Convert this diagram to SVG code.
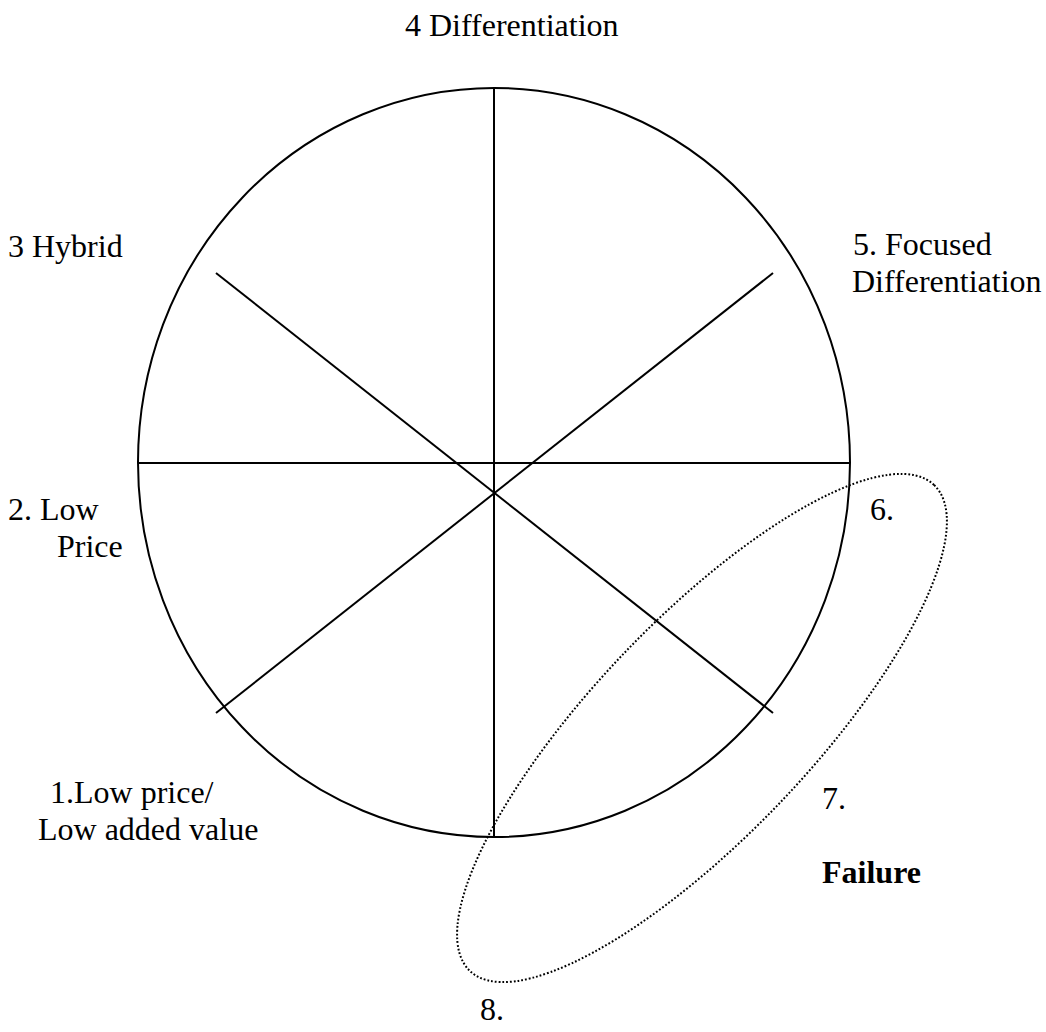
<svg xmlns="http://www.w3.org/2000/svg" width="1046" height="1032" viewBox="0 0 1046 1032">
<style>
.ln{stroke:#000;stroke-width:2;fill:none}
.dot{stroke:#000;stroke-width:2;fill:none;stroke-dasharray:1.8 2}
text{font-family:"Liberation Serif","Times New Roman",serif;font-size:32px;fill:#000}
.b{font-weight:bold}
</style>
<rect width="1046" height="1032" fill="#fff"/>
<g id="wheel">
<ellipse class="ln" cx="494" cy="462.5" rx="356" ry="374.5"/>
</g>
<g id="connectors">
<line class="ln" x1="494" y1="88" x2="494" y2="837"/>
<line class="ln" x1="138" y1="463" x2="850" y2="463"/>
<line class="ln" x1="216" y1="273" x2="773" y2="713"/>
<line class="ln" x1="773" y1="273" x2="216" y2="713"/>
</g>
<g id="failure-zone">
<ellipse class="dot" cx="702" cy="728" rx="336" ry="108" transform="rotate(-46.3 702 728)"/>
</g>
<g id="n4"><text x="405" y="36">4 Differentiation</text></g>
<g id="n3"><text x="8" y="257">3 Hybrid</text></g>
<g id="n5"><text x="853" y="255">5. Focused</text><text x="852" y="292">Differentiation</text></g>
<g id="n2"><text x="8" y="520">2. Low</text><text x="57" y="557">Price</text></g>
<g id="n6"><text x="870" y="520">6.</text></g>
<g id="n1"><text x="50" y="803">1.Low price/</text><text x="38" y="840">Low added value</text></g>
<g id="n7"><text x="822" y="809">7.</text></g>
<g id="nf"><text class="b" x="822" y="883">Failure</text></g>
<g id="n8"><text x="480" y="1020">8.</text></g>
</svg>
